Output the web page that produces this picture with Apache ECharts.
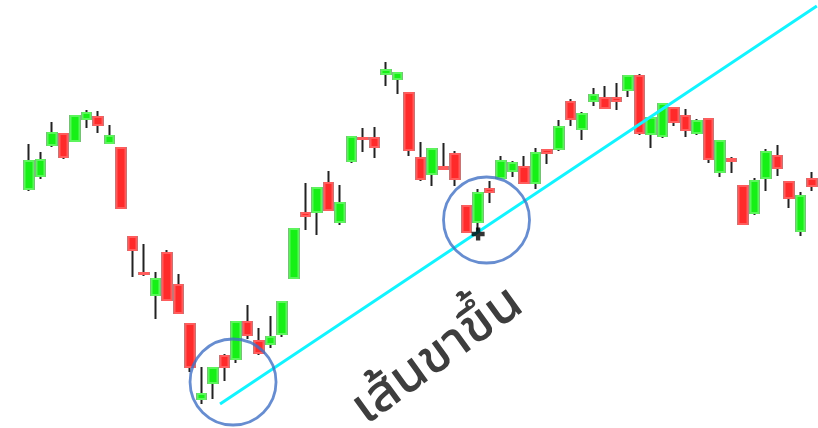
<!DOCTYPE html>
<html>
<head>
<meta charset="utf-8">
<script src="https://cdn.jsdelivr.net/npm/echarts@6/dist/echarts.min.js"></script>
<style>
  html, body { margin: 0; padding: 0; background: #fff; }
  #chart { width: 818px; height: 428px; }
</style>
</head>
<body>
<div id="chart"></div>
<script>
// candles: [open, close, low, high]
const candles = [
  [239, 267, 237, 284], [252, 268, 249, 276], [283, 295, 281, 306], [294, 271, 269, 294],
  [287, 312, 286, 312], [309, 315, 300, 318], [311, 303, 295, 317], [285, 292, 284, 303],
  [280, 220, 220, 281], [191, 178, 151, 191], [155, 154, 152, 184], [133, 149, 109, 156],
  [175, 128, 128, 178], [143, 115, 115, 154], [104, 61, 56, 105], [29, 34, 24, 61],
  [45, 60, 29, 60], [72, 61, 47, 74], [69, 106, 65, 106], [106, 93, 89, 123],
  [87, 75, 73, 100], [84, 91, 80, 112], [94, 126, 91, 127], [150, 199, 150, 199],
  [215, 212, 198, 245], [216, 240, 193, 241], [245, 218, 218, 257], [206, 225, 203, 243],
  [267, 291, 265, 291], [290, 289, 276, 300], [290, 281, 270, 301], [354, 358, 342, 366],
  [349, 355, 334, 356], [335, 278, 272, 335], [270, 249, 247, 286], [254, 279, 242, 279],
  [261, 259, 259, 285], [274, 249, 242, 277], [222, 196, 195, 222], [206, 235, 195, 239],
  [239, 236, 225, 247], [250, 267, 250, 272], [257, 265, 251, 267], [261, 245, 244, 272],
  [245, 275, 239, 280], [278, 275, 264, 279], [279, 301, 277, 308], [326, 309, 302, 329],
  [299, 314, 288, 316], [327, 333, 322, 340], [330, 320, 320, 342], [330, 327, 318, 345],
  [338, 352, 331, 352], [352, 295, 293, 354], [294, 310, 280, 310], [292, 324, 290, 324],
  [320, 306, 302, 320], [312, 298, 291, 319], [295, 307, 293, 309], [309, 269, 265, 309],
  [256, 287, 251, 287], [269, 267, 255, 271], [242, 204, 203, 242], [215, 247, 213, 250],
  [250, 276, 237, 279], [272, 260, 252, 283], [246, 230, 220, 246], [197, 232, 192, 236],
  [249, 242, 237, 256]
];
const days = candles.map((c, i) => 'D' + (i + 1));

// trend line, from start to end [x, value]
const trendLine = [[17.1, 24], [68.9, 422]];
// circled areas
const circles = [[18.23, 46], [40.23, 208]];
// cross marker
const marker = [[39.5, 194]];
const label = 'เส้นขาขึ้น';

// body only data (covers the dark border of the wick series)
const bodies = candles.map(c => [c[0], c[1], Math.min(c[0], c[1]), Math.max(c[0], c[1])]);

const chart = echarts.init(document.getElementById('chart'));
chart.setOption({
  animation: false,
  grid: { left: 23, top: 0, width: 798, height: 428 },
  xAxis: [
    { type: 'category', data: days, boundaryGap: true, show: false },
    { type: 'value', min: 0, max: 69, show: false }
  ],
  yAxis: { type: 'value', min: 0, max: 428, show: false },
  series: [
    {
      type: 'candlestick',
      data: candles,
      barWidth: 9,
      itemStyle: {
        color: '#16f016', color0: '#ff2a2a',
        borderColor: '#222', borderColor0: '#222', borderWidth: 2
      }
    },
    {
      type: 'candlestick',
      data: bodies,
      barWidth: 9,
      itemStyle: {
        color: '#16f016', color0: '#ff2a2a',
        borderColor: '#5cf55c', borderColor0: '#ff5c5c', borderWidth: 2
      }
    },
    {
      type: 'line',
      xAxisIndex: 1,
      data: trendLine,
      symbol: 'none',
      lineStyle: { color: '#12f4ff', width: 3 },
      z: 5
    },
    {
      type: 'scatter',
      xAxisIndex: 1,
      data: circles,
      symbol: 'circle',
      symbolSize: 86,
      itemStyle: { color: 'rgba(0,0,0,0)', borderColor: '#4170c4', borderWidth: 2.8 },
      z: 6
    },
    {
      type: 'scatter',
      xAxisIndex: 1,
      data: marker,
      symbol: 'path://M4,0H8V4H12V8H8V12H4V8H0V4H4Z',
      symbolSize: 13,
      itemStyle: { color: '#000' },
      z: 7
    }
  ],
  graphic: [{
    type: 'text',
    x: 437, y: 355,
    rotation: 36 * Math.PI / 180,
    style: {
      text: label,
      fill: '#3d3d3d',
      font: '500 54px "Noto Sans Thai UI", "Noto Sans Thai", "Noto Sans", sans-serif',
      align: 'center',
      verticalAlign: 'middle'
    }
  }]
});
</script>
</body>
</html>
